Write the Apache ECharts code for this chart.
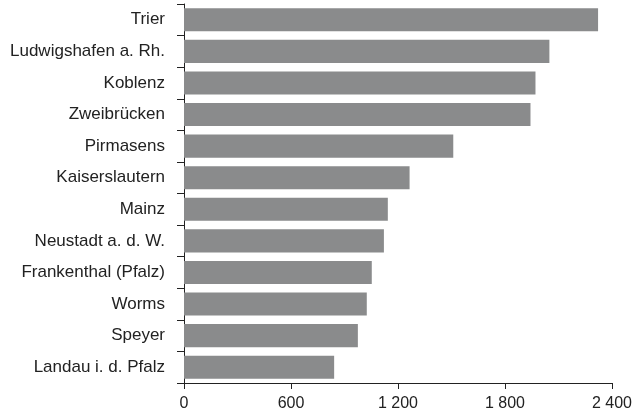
<!DOCTYPE html>
<html>
<head>
<meta charset="utf-8">
<script src="https://cdn.jsdelivr.net/npm/echarts@6/dist/echarts.min.js"></script>
<style>
html,body{margin:0;padding:0;background:#fff;}
#chart{width:635px;height:414px;}
</style>
</head>
<body>
<div id="chart"></div>
<script>
const categories = ["Trier","Ludwigshafen a. Rh.","Koblenz","Zweibrücken","Pirmasens","Kaiserslautern","Mainz","Neustadt a. d. W.","Frankenthal (Pfalz)","Worms","Speyer","Landau i. d. Pfalz"];
const values = [2322, 2049, 1971, 1943, 1510, 1265, 1143, 1121, 1053, 1025, 975, 842];
const xTicks = [0, 600, 1200, 1800, 2400];

const FONT = "'Liberation Sans', Arial, sans-serif";
const chart = echarts.init(document.getElementById('chart'), null, {renderer:'canvas'});
const fmt = v => String(v).replace(/\B(?=(\d{3})+(?!\d))/g, ' ');
chart.setOption({
  animation: false,
  grid: {left: 184, right: 20, top: 4, bottom: 31, containLabel: false},
  xAxis: {
    type: 'value', min: xTicks[0], max: xTicks[xTicks.length-1], interval: 600,
    splitLine: {show: false},
    axisLine: {show: true, lineStyle: {color: '#222', width: 1}},
    axisTick: {show: true, length: 6, lineStyle: {color: '#222'}},
    axisLabel: {color: '#222', fontSize: 16, fontFamily: FONT, margin: 13, formatter: fmt}
  },
  yAxis: {
    type: 'category', data: categories, inverse: true,
    axisLine: {show: true, lineStyle: {color: '#222', width: 1}},
    axisTick: {show: true, length: 7, alignWithLabel: false, lineStyle: {color: '#222'}},
    axisLabel: {color: '#222', fontSize: 17, fontFamily: FONT, margin: 19}
  },
  series: [{
    type: 'bar', data: values, barCategoryGap: '27%',
    itemStyle: {color: '#8a8b8c'}
  }]
});
</script>
</body>
</html>
